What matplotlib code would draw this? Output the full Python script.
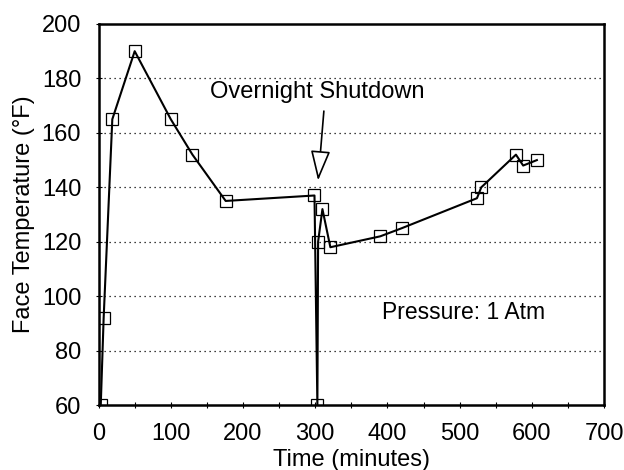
import matplotlib
matplotlib.use('Agg')
import matplotlib.pyplot as plt
from matplotlib.ticker import MultipleLocator

plt.rcParams['font.family'] = ['Liberation Sans', 'DejaVu Sans']

# readings taken from the plot
time_min = [3, 7, 19, 50, 100, 130, 176, 299, 303, 304, 310, 321, 390, 420, 524, 530, 578, 588, 607]
temp_f = [60, 92, 165, 190, 165, 152, 135, 137, 60, 120, 132, 118, 122, 125, 136, 140, 152, 148, 150]

yticks = [60, 80, 100, 120, 140, 160, 180, 200]
xticks = [0, 100, 200, 300, 400, 500, 600, 700]

fig = plt.figure(figsize=(6.24, 4.70), dpi=100)
ax = fig.add_axes([0.158, 0.138, 0.810, 0.811])

ax.plot(time_min, temp_f, color='black', lw=1.5, marker='s', markersize=8,
        markerfacecolor='none', markeredgecolor='black', markeredgewidth=0.9)

ax.set_xlim(0, 700)
ax.set_ylim(60, 200)
ax.set_xticks(xticks)
ax.set_yticks(yticks)
ax.xaxis.set_minor_locator(MultipleLocator(50))
ax.tick_params(labelsize=17, direction='inout', length=5, width=0.8)
ax.tick_params(axis='x', pad=10)
ax.tick_params(axis='y', pad=10)
ax.tick_params(which='minor', direction='inout', length=4, width=0.8)
for y in yticks[1:-1]:
    ax.axhline(y, color='black', lw=0.9, ls=(0, (1, 3)))

for side in ['top', 'bottom', 'left', 'right']:
    ax.spines[side].set_linewidth(1.8)

ax.set_xlabel('Time (minutes)', fontsize=17, labelpad=3)
ax.set_ylabel('Face Temperature (°F)', fontsize=17, labelpad=5)

ax.annotate('', xy=(304, 142.5), xytext=(312, 168),
            arrowprops=dict(arrowstyle='-|>,head_length=1.1,head_width=0.36',
                            mutation_scale=17, shrinkA=0, shrinkB=0,
                            fc='white', ec='black', lw=1.2))
ax.text(303, 175, 'Overnight Shutdown', fontsize=17, ha='center', va='center')
ax.text(393, 94, 'Pressure: 1 Atm', fontsize=16.5, ha='left', va='center')

plt.savefig('out.png', dpi=100)
